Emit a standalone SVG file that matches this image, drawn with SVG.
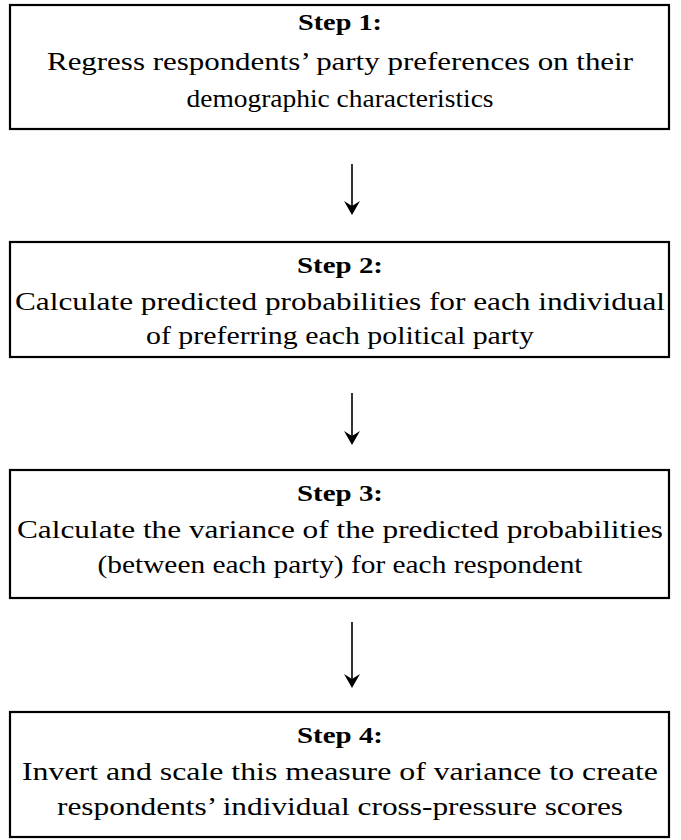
<svg xmlns="http://www.w3.org/2000/svg" width="681" height="840" viewBox="0 0 681 840">
<style>
.box{fill:#fff;stroke:#000;stroke-width:2.2}
.t{font-family:"Liberation Serif","Times New Roman",serif;font-size:25px;fill:#000;text-anchor:middle}
.h{font-family:"Liberation Serif","Times New Roman",serif;font-size:23px;font-weight:bold;fill:#000;text-anchor:middle}
.ar{stroke:#000;stroke-width:1.6;fill:none}
.ah{fill:#000;stroke:none}
</style>
<rect width="681" height="840" fill="#fff"/>
<g id="step1">
<rect class="box" x="10" y="5" width="659" height="124"/>
<text class="h" x="340" y="30" textLength="84" lengthAdjust="spacingAndGlyphs">Step 1:</text>
<text class="t" x="340" y="70" textLength="586" lengthAdjust="spacingAndGlyphs">Regress respondents’ party preferences on their</text>
<text class="t" x="340" y="107" textLength="307" lengthAdjust="spacingAndGlyphs">demographic characteristics</text>
</g>
<g id="step2">
<rect class="box" x="10" y="242" width="659" height="115"/>
<text class="h" x="340" y="273" textLength="86" lengthAdjust="spacingAndGlyphs">Step 2:</text>
<text class="t" x="340" y="310" textLength="650" lengthAdjust="spacingAndGlyphs">Calculate predicted probabilities for each individual</text>
<text class="t" x="340" y="344" textLength="388" lengthAdjust="spacingAndGlyphs">of preferring each political party</text>
</g>
<g id="step3">
<rect class="box" x="10" y="470" width="659" height="128"/>
<text class="h" x="340" y="501" textLength="86" lengthAdjust="spacingAndGlyphs">Step 3:</text>
<text class="t" x="340" y="538" textLength="646" lengthAdjust="spacingAndGlyphs">Calculate the variance of the predicted probabilities</text>
<text class="t" x="340" y="573" textLength="485" lengthAdjust="spacingAndGlyphs">(between each party) for each respondent</text>
</g>
<g id="step4">
<rect class="box" x="10" y="712" width="659" height="125"/>
<text class="h" x="340" y="743" textLength="86" lengthAdjust="spacingAndGlyphs">Step 4:</text>
<text class="t" x="340" y="780" textLength="636" lengthAdjust="spacingAndGlyphs">Invert and scale this measure of variance to create</text>
<text class="t" x="340" y="815" textLength="566" lengthAdjust="spacingAndGlyphs">respondents’ individual cross-pressure scores</text>
</g>
<g id="connectors">
<line class="ar" x1="352" y1="164" x2="352" y2="210"/>
<path class="ah" d="M344,201 L352,215 L360,201 L352,206 Z"/>
<line class="ar" x1="352" y1="393" x2="352" y2="440"/>
<path class="ah" d="M344,431 L352,445 L360,431 L352,436 Z"/>
<line class="ar" x1="352" y1="622" x2="352" y2="683"/>
<path class="ah" d="M344,674 L352,688 L360,674 L352,679 Z"/>
</g>
</svg>
